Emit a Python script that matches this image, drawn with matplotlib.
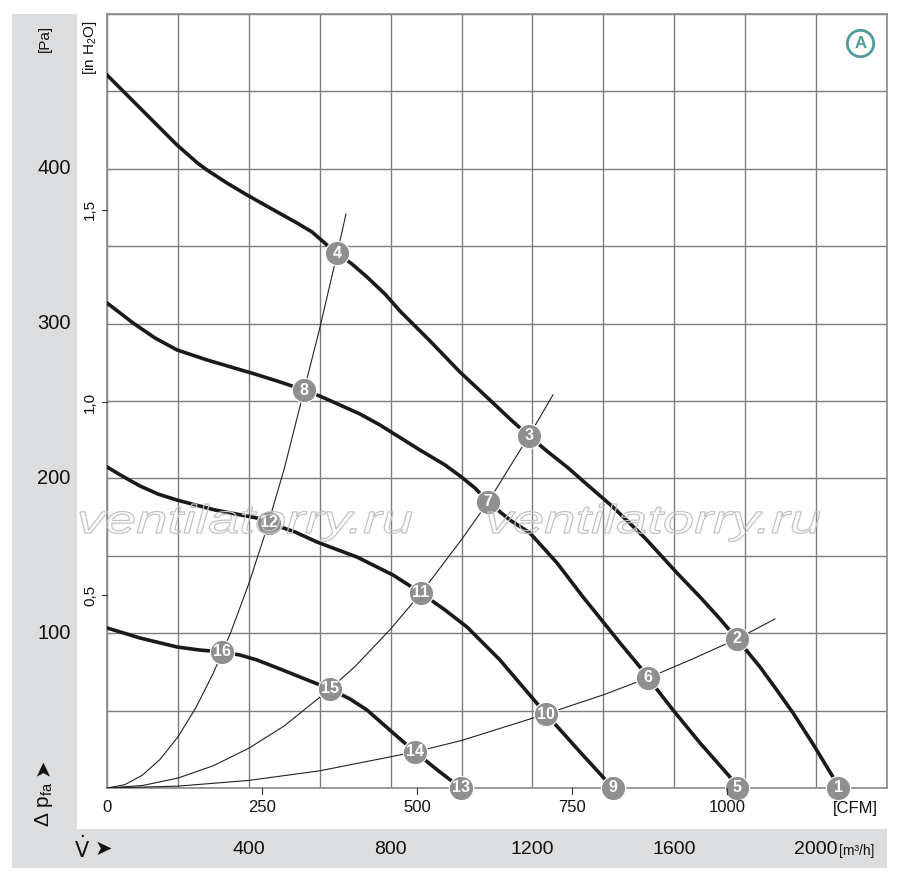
#!/usr/bin/env python3
"""
ファン性能曲線 (静圧 vs 風量) の再現
"""

import matplotlib
matplotlib.use("Agg")
import matplotlib.pyplot as plt
from matplotlib.patches import Rectangle, PathPatch
from matplotlib.textpath import TextPath
from matplotlib.font_manager import FontProperties
from matplotlib.transforms import Affine2D, IdentityTransform

# 性能曲線 (風量 m3/h, 静圧 Pa)
curve1_q = [0, 98.7, 197.4, 225.6, 253.8, 282.1, 338.5, 394.9, 465.4, 535.9, 578.2, 620.5, 648.7, 691.0,
            733.3, 784.1, 826.4, 911.0, 995.6, 1080.2, 1136.7, 1190.3, 1243.8, 1297.4, 1362.3, 1427.2,
            1517.4, 1607.7, 1672.6, 1729.0, 1776.9, 1841.8, 1886.9, 1934.9, 1991.3, 2047.7, 2061.8]
curve1_p = [460.6, 438.0, 415.4, 409.7, 404.0, 399.2, 390.8, 383.1, 374.0, 365.0, 359.2, 350.8, 345.6, 338.5,
            330.1, 319.1, 308.1, 288.8, 268.7, 250.6, 238.4, 227.4, 217.1, 207.4, 194.4, 181.5,
            161.5, 138.9, 123.4, 109.2, 96.3, 78.2, 64.0, 48.5, 28.4, 7.1, 0]

curve2_q = [0, 36.7, 73.3, 135.4, 197.4, 282.1, 417.4, 488.0, 555.6, 606.4, 657.2, 713.6, 770.0, 882.8,
            953.3, 995.6, 1037.9, 1074.6, 1136.7, 1193.1, 1269.2, 1342.6, 1390.5, 1446.9, 1503.3, 1525.9,
            1596.4, 1672.6, 1757.2, 1776.9]
curve2_p = [313.3, 306.9, 300.4, 290.7, 283.0, 276.5, 267.4, 262.3, 257.1, 252.6, 247.4, 241.6, 234.5, 218.3,
            208.7, 201.6, 193.8, 184.8, 173.1, 164.7, 145.4, 123.4, 109.8, 93.7, 78.2, 71.1,
            50.4, 29.1, 7.1, 0]

curve3_q = [0, 42.3, 93.1, 143.8, 197.4, 304.6, 423.1, 456.9, 530.3, 592.3, 705.1, 806.7, 885.6, 953.3,
            1015.4, 1108.4, 1173.3, 1238.2, 1334.1, 1427.2]
curve3_p = [207.4, 201.6, 195.1, 189.9, 186.0, 179.6, 174.4, 171.2, 165.4, 158.9, 149.2, 137.6, 126.0, 115.0,
            104.0, 82.7, 65.2, 47.8, 23.3, 0]

curve4_q = [0, 93.1, 197.4, 262.3, 324.4, 375.1, 423.1, 488.0, 544.4, 629.0, 685.4, 733.3, 803.8, 868.7,
            939.2, 998.4]
curve4_p = [103.4, 96.9, 91.1, 89.1, 87.9, 85.9, 82.7, 76.9, 71.7, 64.0, 57.5, 50.4, 36.2, 23.3,
            10.3, 0]

# 系統抵抗曲線
sys1_q = [0, 50, 100, 150, 200, 250, 300, 350, 400, 450, 500, 556, 600, 649, 674]
sys1_p = [0, 2.1, 8.3, 18.6, 33.0, 51.6, 74.3, 101.1, 132.0, 167.1, 206.3, 257.1, 297.0, 345.0, 370.8]

sys2_q = [0, 100, 200, 300, 400, 500, 629, 700, 800, 886, 1000, 1075, 1190, 1258]
sys2_p = [0, 1.6, 6.4, 14.4, 25.7, 40.1, 64.0, 78.6, 102.7, 126.0, 160.5, 184.8, 227.4, 254.0]

sys3_q = [0, 200, 400, 600, 869, 1000, 1238, 1400, 1526, 1650, 1777, 1884]
sys3_p = [0, 1.2, 4.9, 11.1, 23.3, 30.7, 47.8, 60.2, 71.1, 83.2, 96.3, 109.2]

# 動作点マーカー
marker_q = [2061.8, 1776.9, 1190.3, 648.7, 1776.9, 1525.9, 1074.6, 555.6,
            1427.2, 1238.2, 885.6, 456.9, 998.4, 868.7, 629.0, 324.4]
marker_p = [0, 96.3, 227.4, 345.6, 0, 71.1, 184.8, 257.1,
            0, 47.8, 126.0, 171.2, 0, 23.3, 64.0, 87.9]
marker_label = [str(i) for i in range(1, 17)]

# 目盛りラベル
pa_ticks = [100, 200, 300, 400]
inh2o_ticks = [0.5, 1.0, 1.5]
inh2o_labels = ["0,5", "1,0", "1,5"]
m3h_ticks = [400, 800, 1200, 1600, 2000]
cfm_ticks = [0, 250, 500, 750, 1000]

PA_PER_INH2O = 249.1
M3H_PER_CFM = 1.749  # 図の目盛り位置に合わせた値

W, H = 900, 883
NARROW = ["Liberation Sans Narrow", "Liberation Sans", "DejaVu Sans"]
INK = "#111111"


def fx(px):
    return px / W


def fy(py):
    return 1 - py / H


def watermark(fig, x_left, x_right, baseline):
    """横に引き伸ばした透かし文字 (輪郭のみ) を描く"""
    tp = TextPath((0, 0), "ventilatorry.ru", size=1,
                  prop=FontProperties(family=["Liberation Sans", "DejaVu Sans"], style="italic"))
    ext = tp.get_extents()
    sx = (x_right - x_left) / ext.width
    sy = 40.0
    tr = Affine2D().translate(-ext.x0, 0).scale(sx, sy).translate(x_left, H - baseline)
    patch = PathPatch(tr.transform_path(tp), transform=IdentityTransform(),
                      facecolor="none", edgecolor="#c2c2c2", linewidth=0.9, zorder=2)
    fig.patches.append(patch)


def main():
    fig = plt.figure(figsize=(W / 100, H / 100), dpi=100)
    fig.patch.set_facecolor("white")

    band = "#dcdddf"
    fig.patches.append(Rectangle((fx(12), fy(868)), fx(77) - fx(12), fy(14) - fy(868),
                                 transform=fig.transFigure, facecolor=band, edgecolor="none", zorder=0))
    fig.patches.append(Rectangle((fx(12), fy(868)), fx(887) - fx(12), fy(829) - fy(868),
                                 transform=fig.transFigure, facecolor=band, edgecolor="none", zorder=0))

    ax = fig.add_axes([fx(107), fy(788), fx(887) - fx(107), fy(14) - fy(788)])
    ax.set_xlim(0, 2200)
    ax.set_ylim(0, 500)
    ax.set_xticks(range(0, 2201, 200))
    ax.set_yticks(range(0, 501, 50))
    ax.tick_params(length=0, labelbottom=False, labelleft=False)
    ax.grid(True, color="#7d7d7d", linewidth=1.0)
    ax.set_axisbelow(True)
    for s in ax.spines.values():
        s.set_color("#8a8a8a")
        s.set_linewidth(1.2)

    for q, p in [(sys1_q, sys1_p), (sys2_q, sys2_p), (sys3_q, sys3_p)]:
        ax.plot(q, p, color="#222222", linewidth=0.8, zorder=3)

    for q, p in [(curve1_q, curve1_p), (curve2_q, curve2_p), (curve3_q, curve3_p), (curve4_q, curve4_p)]:
        ax.plot(q, p, color="#1a1a1a", linewidth=2.6, solid_joinstyle="round", zorder=4)

    ax.plot(marker_q, marker_p, linestyle="none", marker="o", markersize=17.5,
            markerfacecolor="#8f8f8f", markeredgecolor="white", markeredgewidth=0.8,
            clip_on=False, zorder=5)
    for q, p, lab in zip(marker_q, marker_p, marker_label):
        ax.text(q, p, lab, ha="center", va="center", color="white", fontsize=11.5,
                fontweight="bold", family=NARROW, clip_on=False, zorder=6)

    # 透かし文字
    watermark(fig, 80, 412, 533)
    watermark(fig, 488, 820, 533)

    # 丸囲み A
    ax.plot([0.966], [0.963], transform=ax.transAxes, marker="o", markersize=19,
            markerfacecolor="white", markeredgecolor="#4f9c98", markeredgewidth=2, clip_on=False)
    ax.text(0.966, 0.962, "A", transform=ax.transAxes, ha="center", va="center",
            color="#4f9c98", fontsize=12, fontweight="bold", family=NARROW)

    # 左側の目盛り
    for v in pa_ticks:
        y = ax.transData.transform((0, v))[1] / H
        fig.text(fx(54), y, str(v), ha="center", va="center", fontsize=14.5, family=NARROW, color=INK)
    fig.text(fx(45), fy(38), "[Pa]", rotation=90, ha="center", va="center", fontsize=11,
             family=NARROW, color=INK)
    fig.text(fx(90), fy(48), "[in H$_\\mathregular{2}$O]", rotation=90, ha="center", va="center",
             fontsize=11, family=NARROW, color=INK)
    for v, lab in zip(inh2o_ticks, inh2o_labels):
        y = ax.transData.transform((0, v * PA_PER_INH2O))[1] / H
        fig.text(fx(90), y, lab, rotation=90, ha="center", va="center", fontsize=11,
                 family=NARROW, color=INK)
        fig.lines.append(plt.Line2D([fx(102), fx(107)], [y, y], transform=fig.transFigure,
                                    color="#333333", linewidth=0.8))

    fig.text(fx(44), fy(804), "Δ p$_\\mathregular{fa}$", rotation=90, ha="center", va="center",
             fontsize=15, family=NARROW, color=INK)
    fig.text(fx(43), fy(767), "➤", rotation=90, ha="center", va="center", fontsize=15,
             family=["DejaVu Sans"], color=INK)

    # 下側の目盛り
    for v in cfm_ticks:
        x = ax.transData.transform((v * M3H_PER_CFM, 0))[0] / W
        fig.text(x, fy(808), str(v), ha="center", va="center", fontsize=12, family=NARROW, color=INK)
        if v > 0:
            fig.lines.append(plt.Line2D([x, x], [fy(788), fy(794)], transform=fig.transFigure,
                                        color="#333333", linewidth=0.8))
    fig.text(fx(855), fy(808), "[CFM]", ha="center", va="center", fontsize=12, family=NARROW, color=INK)

    for v in m3h_ticks:
        x = ax.transData.transform((v, 0))[0] / W
        fig.text(x, fy(849), str(v), ha="center", va="center", fontsize=14, family=NARROW, color=INK)
    fig.text(fx(839), fy(851), "[m³/h]", ha="left", va="center", fontsize=10, family=NARROW, color=INK)
    fig.text(fx(82), fy(849), "$\\dot{\\mathsf{V}}$", ha="center", va="center", fontsize=15, color=INK)
    fig.text(fx(103), fy(849), "➤", ha="center", va="center", fontsize=15,
             family=["DejaVu Sans"], color=INK)

    fig.savefig("out.png", dpi=100)


if __name__ == "__main__":
    main()
